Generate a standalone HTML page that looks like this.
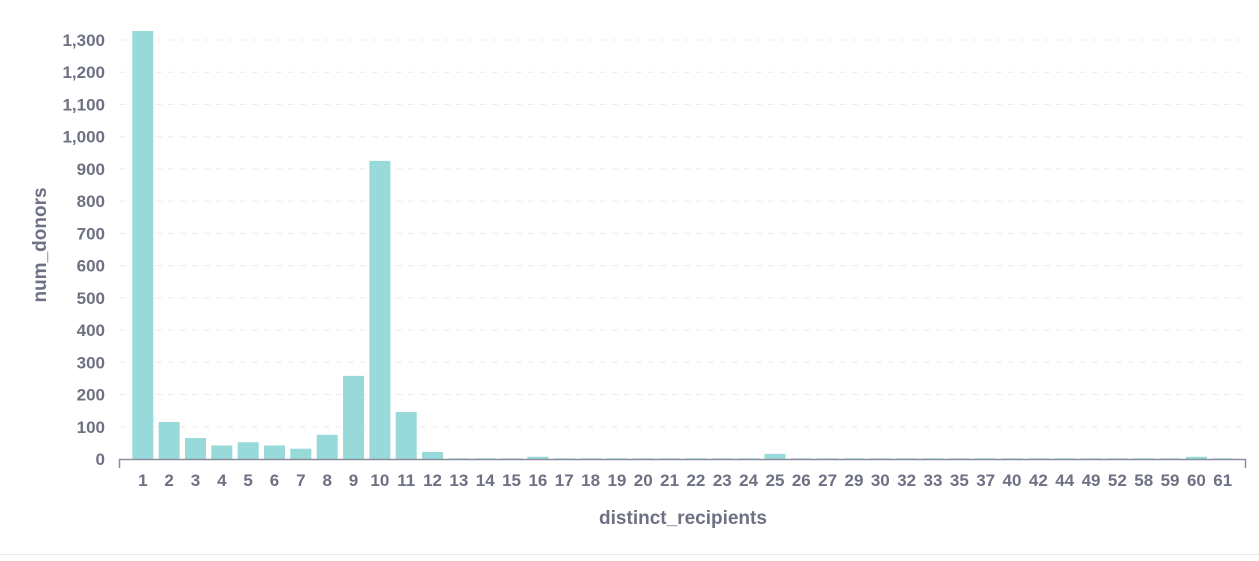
<!DOCTYPE html>
<html><head><meta charset="utf-8"><style>
body{margin:0;background:#fff;width:1259px;height:556px;overflow:hidden}
text{font-family:"Liberation Sans",sans-serif;font-weight:bold;fill:#6e7183}
</style></head><body>
<svg width="1259" height="556" xmlns="http://www.w3.org/2000/svg">
<g id="grid" stroke="#ececec" stroke-dasharray="6,6" stroke-width="1"></g>
<g id="ylab" font-size="17" text-anchor="end"></g>
<g id="bars" fill="#98dad9"></g>
<line x1="119" y1="459.5" x2="1246" y2="459.5" stroke="#8a8da0" stroke-width="1.5"/>
<line x1="119.5" y1="459" x2="119.5" y2="468" stroke="#8a8da0" stroke-width="1.5"/>
<line x1="1245.5" y1="459" x2="1245.5" y2="468" stroke="#8a8da0" stroke-width="1.5"/>
<g id="xlab" font-size="17" text-anchor="middle"></g>
<text x="683" y="524" font-size="19" text-anchor="middle">distinct_recipients</text>
<text transform="translate(46,245) rotate(-90)" font-size="19" text-anchor="middle">num_donors</text>
<line x1="0" y1="554.5" x2="1259" y2="554.5" stroke="#e8e8e8"/>
<script>
var ns="http://www.w3.org/2000/svg";
function el(p,t,a,txt){var e=document.createElementNS(ns,t);for(var k in a)e.setAttribute(k,a[k]);if(txt!==undefined)e.textContent=txt;document.getElementById(p).appendChild(e);}
var y0=459,s=0.3223;
for(var v=0;v<=1300;v+=100){var y=y0-v*s;if(v>0)el("grid","line",{x1:120,x2:1245,y1:y,y2:y});el("ylab","text",{x:105,y:y+6},v.toLocaleString("en-US"));}
var cats=[1,2,3,4,5,6,7,8,9,10,11,12,13,14,15,16,17,18,19,20,21,22,23,24,25,26,27,29,30,32,33,35,37,40,42,44,49,52,58,59,60,61];
var vals={1:1328,2:115,3:65,4:42,5:52,6:42,7:32,8:75,9:258,10:925,11:146,12:22,16:7,25:16,60:7};
var step=26.34;
cats.forEach(function(c,i){var cx=142.8+i*step;var v=vals[c]||2;var h=v*s;el("bars","rect",{x:cx-10.5,y:y0-h,width:21,height:h});el("xlab","text",{x:cx,y:486},String(c));});
</script>
</svg>
</body></html>
